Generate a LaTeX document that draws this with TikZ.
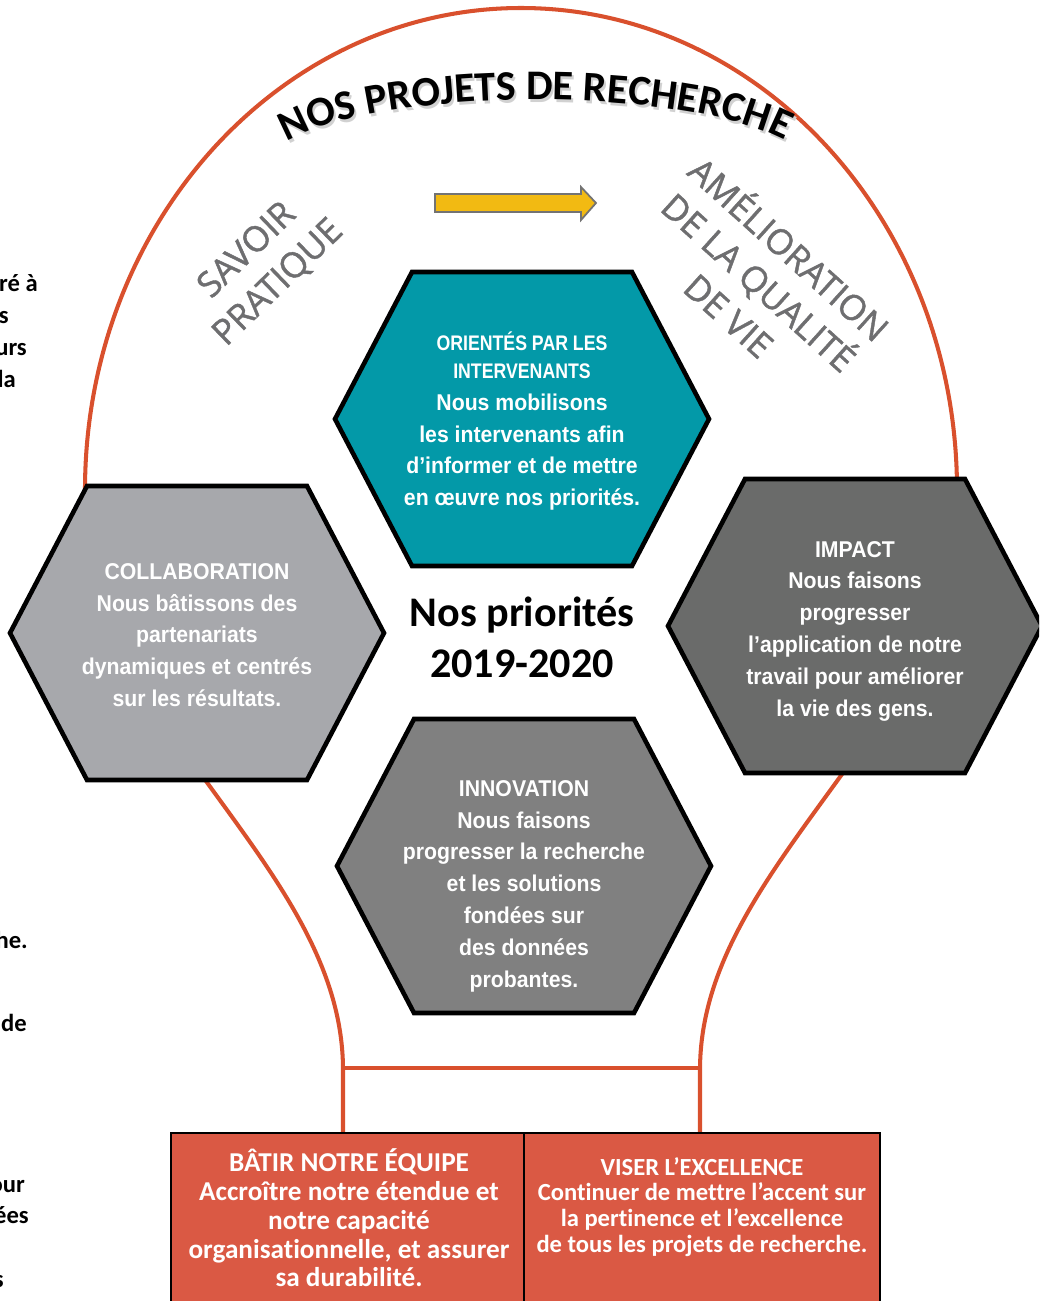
\documentclass[tikz,border=0pt]{standalone}
\usepackage{fontspec}
\setmainfont{Carlito}[Ligatures=NoCommon]
\newfontfamily\hexfont{Liberation Sans}[FakeStretch=0.93]
\newfontfamily\hexnarrow{Liberation Sans}[FakeStretch=0.84]
\newfontfamily\labelfont{Open Sans}[FakeBold=1.2]
\usetikzlibrary{decorations.text}

\definecolor{bulbred}{RGB}{217,80,45}
\definecolor{boxred}{RGB}{218,89,68}
\definecolor{tealhex}{RGB}{3,153,168}
\definecolor{lightgrayhex}{RGB}{167,168,172}
\definecolor{darkgrayhex}{RGB}{106,107,106}
\definecolor{midgrayhex}{RGB}{128,128,128}
\definecolor{labelgray}{RGB}{110,110,112}
\definecolor{arrowyellow}{RGB}{242,186,18}

\newcommand{\titlefont}{\bfseries\fontsize{24}{28}\selectfont}
\newcommand{\hexhead}{\hexnarrow\bfseries\fontsize{12}{14}\selectfont}

\tikzset{
  bulb/.style={draw=bulbred, line width=2.3pt},
  hexline/.style={draw=black, line width=2.6pt, line join=miter},
  hexbody/.style={text=white, align=center, font=\hexfont\bfseries\fontsize{13}{18.1}\selectfont},
  boxline/.style={draw=black, line width=1.6pt, fill=boxred},
  boxtext/.style={text=white, align=center},
  skewlabel/.style={text=labelgray, align=center, font=\labelfont\fontsize{20}{25.5}\selectfont},
  fragment/.style={anchor=base east, font=\bfseries\fontsize{14}{16}\selectfont},
}

% hexagon round a centre: #1 centre, #2 fill colour
\newcommand{\hexa}[2]{%
  \filldraw[hexline, fill=#2, shift={#1}]
    (-110,-147) -- (110,-147) -- (187,0) -- (110,147) -- (-110,147) -- (-187,0) -- cycle;}

\begin{document}
\begin{tikzpicture}[x=0.02cm, y=-0.02cm]
\clip (0,0) rectangle (1039,1301);
\fill[white] (0,0) rectangle (1039,1301);

% bulb outline
\draw[bulb] (85,490) arc[start angle=180, end angle=360, x radius=436, y radius=482];
\draw[bulb] (198,770) .. controls (270,870) and (343,960) .. (343,1070) -- (343,1140);
\draw[bulb] (845,770) .. controls (773,870) and (700,960) .. (700,1070) -- (700,1140);
\draw[bulb] (343,1068) -- (700,1068);

% title on the arc, with its shadow
\path[decorate, decoration={text along path, text align=center, text color=black!18,
  text={|\titlefont|NOS PROJETS DE RECHERCHE}}]
  (272,158) .. controls (342,85) and (722,85) .. (804,155);
\path[decorate, decoration={text along path, text align=center,
  text={|\titlefont|NOS PROJETS DE RECHERCHE}}]
  (270,155) .. controls (340,82) and (720,82) .. (802,152);

% arrow
\filldraw[fill=arrowyellow, draw=black!55, line width=1pt]
  (435,194) -- (581,194) -- (581,187) -- (596,203) -- (581,220) -- (581,212) -- (435,212) -- cycle;

\node[skewlabel, rotate=44] (savoir) at (263,267) {SAVOIR\\PRATIQUE};
\node[skewlabel, rotate=-42] (qualite) at (761,280) {AMÉLIORATION\\DE LA QUALITÉ\\DE VIE};

% hexagons
\hexa{(522,419)}{tealhex}
\hexa{(197,633)}{lightgrayhex}
\hexa{(855,626)}{darkgrayhex}
\hexa{(524,866)}{midgrayhex}

\node[hexbody] (orientes) at (522,421) {\hexhead ORIENTÉS PAR LES\\[-2pt]\hexhead INTERVENANTS\\Nous mobilisons\\les intervenants afin\\d’informer et de mettre\\en œuvre nos priorités.};
\node[hexbody] (collab) at (197,635) {COLLABORATION\\Nous bâtissons des\\partenariats\\dynamiques et centrés\\sur les résultats.};
\node[hexbody] (impact) at (855,631) {IMPACT\\Nous faisons\\progresser\\l’application de notre\\travail pour améliorer\\la vie des gens.};
\node[hexbody] (innovation) at (524,886) {INNOVATION\\Nous faisons\\progresser la recherche\\et les solutions\\fondées sur\\des données\\probantes.};

\node[font=\bfseries\fontsize{24}{29}\selectfont, align=center] (priorites) at (522,637) {Nos priorités\\2019-2020};

% bottom boxes
\draw[boxline] (171,1133) rectangle (524,1320);
\draw[boxline] (524,1133) rectangle (880,1320);
\node[boxtext, font=\bfseries\fontsize{15.5}{16.4}\selectfont] (equipe) at (349,1218) {BÂTIR NOTRE ÉQUIPE\\Accroître notre étendue et\\notre capacité\\organisationnelle, et assurer\\sa durabilité.};
\node[boxtext, font=\bfseries\fontsize{14}{14.7}\selectfont] (excellence) at (702,1207) {VISER L’EXCELLENCE\\Continuer de mettre l’accent sur\\la pertinence et l’excellence\\de tous les projets de recherche.};

% text cut by the left edge
\node[fragment] (f1) at (44,291) {tré à};
\node[fragment] (f2) at (15,323) {es};
\node[fragment] (f3) at (33,355) {urs};
\node[fragment] (f4) at (22,387) {la};
\node[fragment] (f5) at (34,948) {he.};
\node[fragment] (f6) at (33,1031) {de};
\node[fragment] (f7) at (31,1192) {our};
\node[fragment] (f8) at (35,1223) {ées};
\node[fragment] (f9) at (10,1287) {s};
\end{tikzpicture}
\end{document}
